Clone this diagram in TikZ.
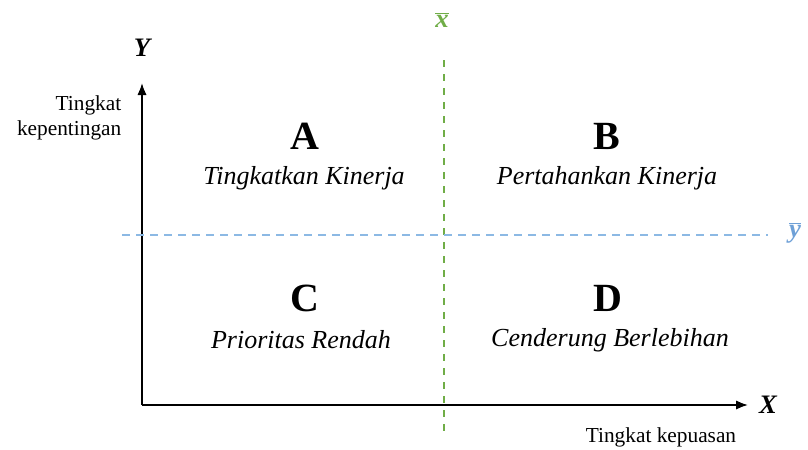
\documentclass[tikz,border=0pt]{standalone}
\usepackage{fontspec}
\setmainfont{Liberation Serif}
\usetikzlibrary{arrows.meta}
\definecolor{xbarcol}{RGB}{112,173,71}
\definecolor{ybarcol}{RGB}{140,185,228}
\definecolor{ylabcol}{RGB}{110,160,215}
\tikzset{
  axis/.style={line width=1.3pt,-{Latex[length=9pt,width=7pt]}},
  quad/.style={font=\fontsize{30}{32}\selectfont\bfseries},
  qlab/.style={font=\fontsize{19.5}{22}\selectfont\itshape},
  axlab/.style={font=\fontsize{20}{22}\selectfont\bfseries\itshape},
  meanlab/.style={font=\fontsize{20}{22}\selectfont\bfseries\itshape},
  small/.style={font=\fontsize{16}{19}\selectfont},
}
\begin{document}
\begin{tikzpicture}[x=0.75pt,y=-0.75pt]
\useasboundingbox (0,0) rectangle (808,450);
% origin and axis ends
\coordinate (O) at (142,405);
\coordinate (Yend) at (142,83);
\coordinate (Xend) at (748,405);
\draw[axis] (O) -- (Yend);
\draw[axis] (O) -- (Xend);
\node[axlab] (Ylab) at (142,48) {Y};
\node[axlab] (Xlab) at (768,405) {X};
% mean lines
\coordinate (xb1) at (444,60);
\coordinate (xb2) at (444,432);
\draw[draw=xbarcol, line width=1.4pt, dash pattern=on 5pt off 5.5pt] (xb1) -- (xb2);
\node[meanlab, text=xbarcol] (xbl) at (442,20) {$\overline{\mbox{\textbf{\textit{x}}}}$};
\coordinate (yb1) at (122,235);
\coordinate (yb2) at (768,235);
\draw[draw=ybarcol, line width=2pt, dash pattern=on 6pt off 4.5pt] (yb1) -- (yb2);
\node[meanlab, text=ylabcol] (ybl) at (795,233) {$\overline{\mbox{\textbf{\textit{y}}}}$};
% axis titles
\node[small, anchor=east, align=right] (ytitle) at (126,118) {Tingkat\\kepentingan};
\node[small] (xtitle) at (661,437) {Tingkat kepuasan};
% quadrants
\node[quad] (A) at (305,136) {A};
\node[qlab] (Al) at (304,178) {Tingkatkan Kinerja};
\node[quad] (B) at (607,136) {B};
\node[qlab] (Bl) at (607,178) {Pertahankan Kinerja};
\node[quad] (C) at (305,298) {C};
\node[qlab] (Cl) at (301,340) {Prioritas Rendah};
\node[quad] (D) at (608,298) {D};
\node[qlab] (Dl) at (610,340) {Cenderung Berlebihan};
\end{tikzpicture}
\end{document}
